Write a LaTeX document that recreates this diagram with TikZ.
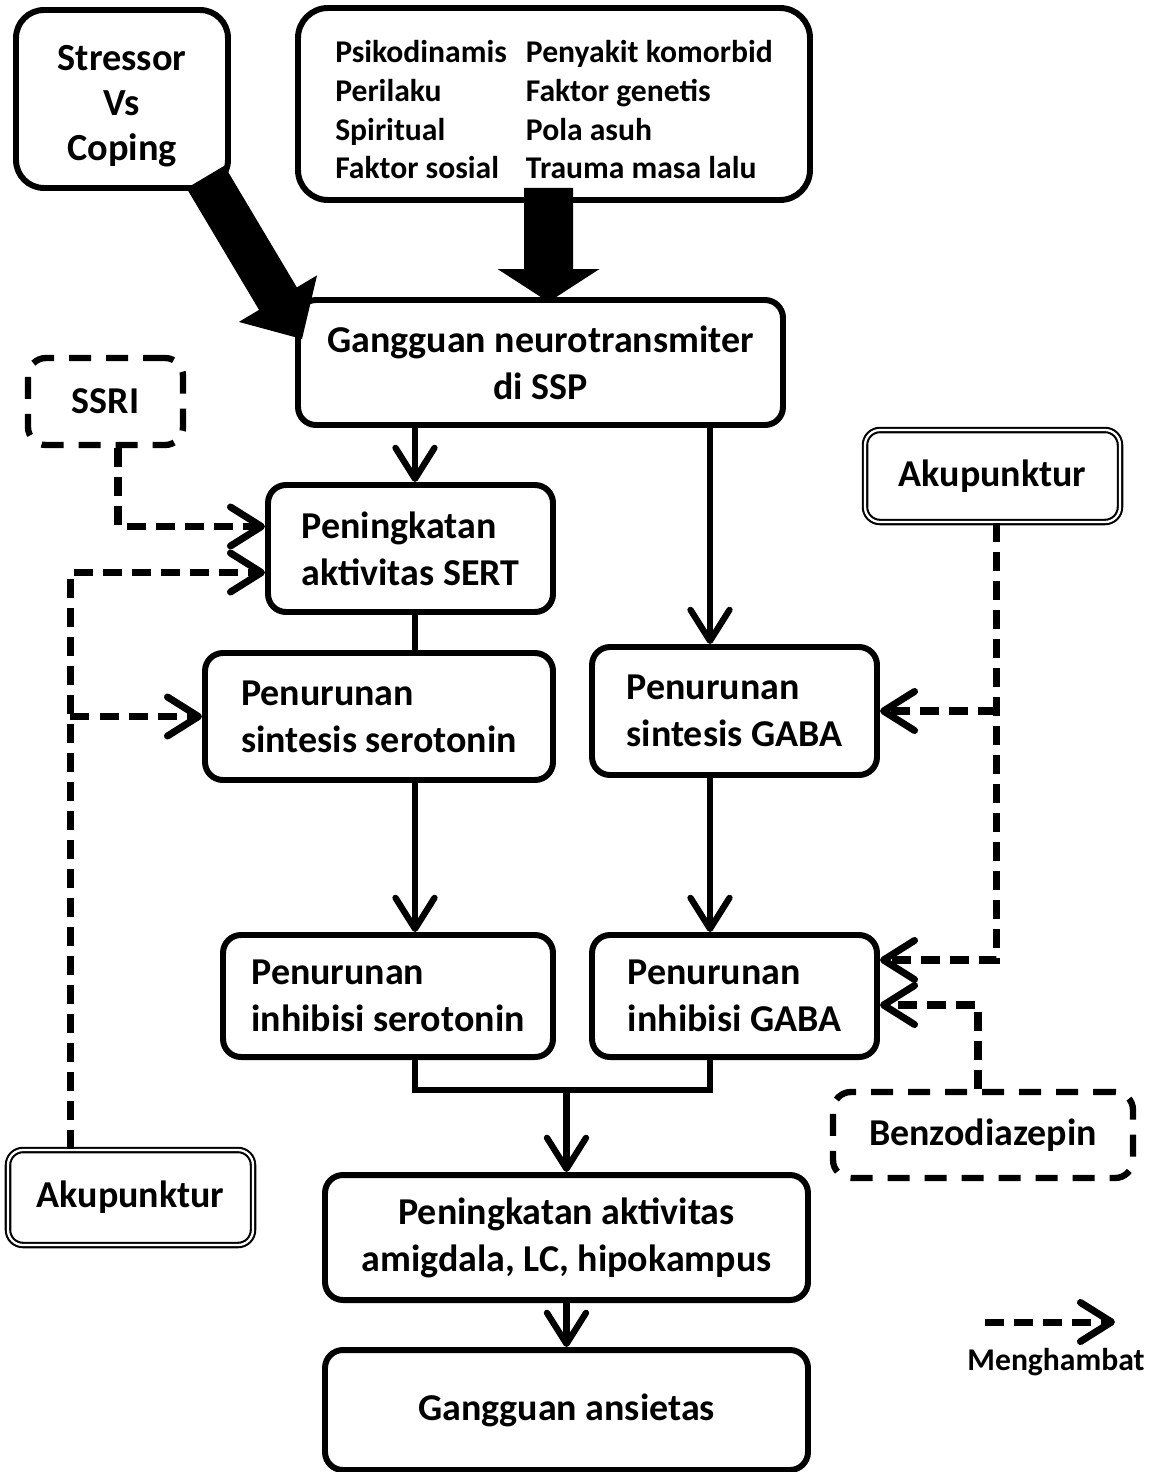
\documentclass[tikz,border=0pt]{standalone}
\usepackage{fontspec}
\setmainfont{Carlito}
\usetikzlibrary{arrows.meta,calc}

\tikzstyle{box} = [draw,line width=1.7pt,rounded corners=0.18cm,align=center,inner sep=0pt,font=\bfseries\fontsize{10.8}{13.4}\selectfont]
\tikzstyle{lbox} = [box,align=left]
\tikzstyle{dbox} = [box,line width=1.8pt,dash pattern=on 0.22cm off 0.15cm]
\tikzstyle{wbox} = [box,line width=0.6pt,double,double distance=0.65pt,rounded corners=0.15cm]
\tikzstyle{line} = [line width=1.8pt]
\tikzstyle{arrow} = [line width=1.8pt,-{Straight Barb[length=3.1mm,width=3.9mm,round]}]
\tikzstyle{arrowd} = [arrow,line width=2pt,dash pattern=on 0.19cm off 0.1cm]

% fat arrow: start, tip, half shaft, half head, head length
\newcommand{\fatarrow}[5]{%
  \coordinate (hb) at ($(#2)!#5!(#1)$);
  \fill ($(#1)!#3!-90:(#2)$) -- ($(#1)!#3!90:(#2)$) -- ($(hb)!#3!90:(#2)$)
    -- ($(hb)!#4!90:(#2)$) -- (#2) -- ($(hb)!#4!-90:(#2)$) -- ($(hb)!#3!-90:(#2)$) -- cycle;
}

\begin{document}
\begin{tikzpicture}

\useasboundingbox (0,0) rectangle (11.53,-14.72);

% Causes
\node [box,rounded corners=0.28cm,minimum width=2.12cm,minimum height=1.78cm,font=\bfseries\fontsize{10.9}{12.8}\selectfont] (stress) at (1.22,-0.99) {\rule{0pt}{11pt}Stressor\\Vs\\Coping};
\node [box,rounded corners=0.3cm,minimum width=5.12cm,minimum height=1.92cm,font=\bfseries\fontsize{9}{11}\selectfont] (factors) at (5.54,-1.04)
  {\begin{tabular}{@{}l@{\hspace{0.19cm}}l@{}}
   \rule{0pt}{12.8pt}Psikodinamis & Penyakit komorbid\\
   Perilaku & Faktor genetis\\
   Spiritual & Pola asuh\\
   Faktor sosial & Trauma masa lalu
   \end{tabular}};

% Main chain
\node [box,minimum width=4.85cm,minimum height=1.25cm] (gang) at (5.405,-3.625) {Gangguan neurotransmiter\\di SSP};
\node [lbox,minimum width=2.85cm,minimum height=1.27cm] (sert) at (4.105,-5.485) {Peningkatan\\aktivitas SERT};
\node [lbox,minimum width=3.48cm,minimum height=1.27cm] (ser1) at (3.79,-7.165) {Penurunan\\sintesis serotonin};
\node [lbox,minimum width=2.85cm,minimum height=1.28cm] (gaba1) at (7.345,-7.11) {Penurunan\\sintesis GABA};
\node [lbox,minimum width=3.30cm,minimum height=1.22cm] (ser2) at (3.88,-9.96) {Penurunan\\inhibisi serotonin};
\node [lbox,minimum width=2.85cm,minimum height=1.22cm] (gaba2) at (7.345,-9.96) {Penurunan\\inhibisi GABA};
\node [box,minimum width=4.83cm,minimum height=1.25cm] (amig) at (5.665,-12.375) {Peningkatan aktivitas\\amigdala, LC, hipokampus};
\node [box,minimum width=4.83cm,minimum height=1.20cm] (ansi) at (5.665,-14.10) {Gangguan ansietas};

% Therapies
\node [dbox,minimum width=1.55cm,minimum height=0.87cm] (ssri) at (1.055,-4.015) {SSRI};
\node [wbox,minimum width=2.55cm,minimum height=0.92cm] (akuR) at (9.925,-4.76) {Akupunktur};
\node [wbox,minimum width=2.45cm,minimum height=0.95cm] (akuL) at (1.305,-11.975) {Akupunktur};
\node [dbox,minimum width=3.0cm,minimum height=0.86cm] (benzo) at (9.83,-11.35) {Benzodiazepin};

% Fat arrows
\coordinate (s1) at ($(stress.south east)+(-0.255,0.14)$);
\coordinate (t1) at ($(gang.north west)+(0.07,-0.42)$);
\fatarrow{s1}{t1}{0.22cm}{0.455cm}{0.47cm}
\coordinate (s2) at ($(factors.south)+(-0.055,0.15)$);
\coordinate (t2) at ($(s2 |- gang.north)+(0,-0.05)$);
\fatarrow{s2}{t2}{0.245cm}{0.51cm}{0.33cm}

% Columns
\coordinate (cs) at (4.15,0);
\coordinate (cg) at (7.10,0);
\coordinate (mj) at ($(amig.north)+(0,0.82)$);

\draw [arrow] (gang.south -| cs) -- (sert.north -| cs);
\draw [arrow] (gang.south -| cg) -- (gaba1.north -| cg);
\draw [line] (sert.south -| cs) -- (ser1.north -| cs);
\draw [arrow] (ser1.south -| cs) -- (ser2.north -| cs);
\draw [arrow] (gaba1.south -| cg) -- (gaba2.north -| cg);
\draw [line] (ser2.south -| cs) |- (mj) -| (gaba2.south -| cg);
\draw [arrow] (mj) -- (amig.north);
\draw [arrow] (amig.south) -- (ansi.north);

% Inhibiting
\coordinate (sv) at ($(ssri.south)+(0.125,0)$);
\draw [arrowd] (sv) |- ($(sert.west)+(0,0.22)$);
\coordinate (lv) at ($(akuL.north)+(-0.6,0)$);
\draw [arrowd] (lv) |- ($(sert.west)+(0,-0.24)$);
\draw [arrowd] (ser1.west -| lv) -- (ser1.west);
\coordinate (rv) at ($(akuR.south)+(0.04,0)$);
\draw [arrowd] (rv) |- ($(gaba2.east)+(0,0.36)$);
\draw [arrowd] (gaba1.east -| rv) -- (gaba1.east);
\coordinate (bv) at ($(benzo.north)+(-0.05,0)$);
\draw [arrowd] (bv) |- ($(gaba2.east)+(0,-0.09)$);

% Legend
\coordinate (l1) at (9.85,-13.22);
\coordinate (l2) at (11.15,-13.22);
\draw [arrowd] (l1) -- (l2);
\node [font=\bfseries\fontsize{9}{11}\selectfont] (leg) at (10.56,-13.62) {Menghambat};

\end{tikzpicture}
\end{document}
